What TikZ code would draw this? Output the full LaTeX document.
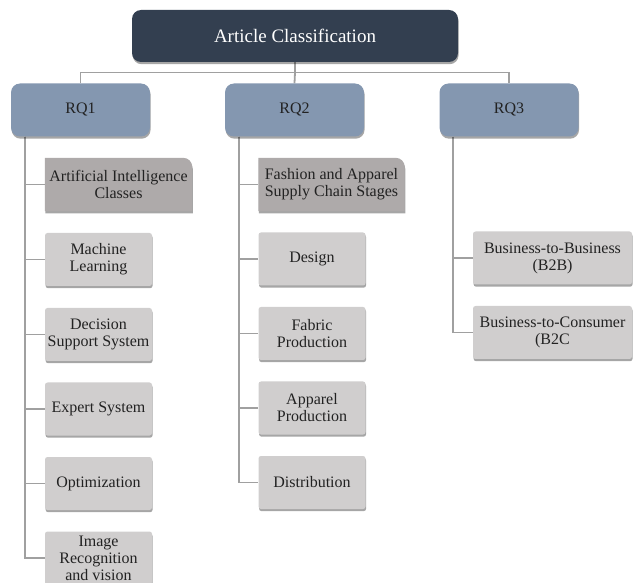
\documentclass[tikz,border=0pt]{standalone}
\usepackage{fontspec}
\setmainfont{Liberation Serif}
\usetikzlibrary{shadows,backgrounds}
\definecolor{titlec}{HTML}{333F50}
\definecolor{rqc}{HTML}{8497B0}
\definecolor{leafc}{HTML}{D0CECE}
\definecolor{headc}{HTML}{AEAAAA}
\definecolor{linec}{HTML}{A0A0A0}
\definecolor{txtc}{HTML}{222222}
\tikzset{
  shad/.style={drop shadow={shadow xshift=0.6pt, shadow yshift=-2.2pt, opacity=0.35, fill=black}},
  titlebox/.style={rectangle, rounded corners=9pt, fill=titlec, text=white, shad,
    minimum width=326pt, minimum height=52pt, inner sep=0pt,
    font=\fontsize{19}{22}\selectfont},
  rqbox/.style={rectangle, rounded corners=9pt, fill=rqc, text=txtc, shad,
    minimum width=139pt, minimum height=53pt, inner sep=0pt,
    font=\fontsize{16}{17}\selectfont},
  leaf/.style={rectangle, rounded corners=2.5pt, fill=leafc, text=txtc, shad,
    minimum width=107pt, minimum height=53pt, inner sep=0pt, align=center,
    font=\fontsize{16}{17}\selectfont},
  headtxt/.style={rectangle, minimum height=53pt, inner sep=0pt, align=center,
    text=txtc, font=\fontsize{16}{17}\selectfont},
  headfill/.style={fill=headc, shad},
  conn/.style={draw=linec, line width=1.8pt}
}
\begin{document}
\begin{tikzpicture}[x=1pt,y=-1pt]
\useasboundingbox (0,0) rectangle (633,583);
% title and research questions
\node[titlebox] (top) at (295,36) {Article Classification};
\node[rqbox] (rq1) at (80.5,110) {RQ1};
\node[rqbox] (rq2) at (294.5,110) {RQ2};
\node[rqbox] (rq3) at (509,110) {RQ3};
\coordinate (hub) at (295,72.5);
% RQ1 children
\node[headtxt, minimum width=147pt] (ai) at (118.5,184.5) {Artificial Intelligence\\Classes};
\node[leaf] (ml) at (98.5,259.5) {Machine\\Learning};
\node[leaf] (dss) at (98.5,334.5) {Decision\\Support System};
\node[leaf] (es) at (98.5,409) {Expert System};
\node[leaf] (opt) at (98.5,483.5) {Optimization};
\node[leaf] (img) at (98.5,558) {Image\\Recognition\\and vision};
% RQ2 children
\node[headtxt, minimum width=146pt] (fash) at (331.5,184.5) {Fashion and Apparel\\Supply Chain Stages};
\node[leaf] (des) at (312,259) {Design};
\node[leaf] (fab) at (312,333.5) {Fabric\\Production};
\node[leaf] (app) at (312,408) {Apparel\\Production};
\node[leaf] (dist) at (312,482.5) {Distribution};
% RQ3 children
\node[leaf, minimum width=159pt] (b2b) at (552.5,258) {Business-to-Business\\(B2B)};
\node[leaf, minimum width=159pt] (b2c) at (552.5,332.5) {Business-to-Consumer\\(B2C};
\begin{scope}[on background layer]
  \fill[headfill] (ai.south west) -- (ai.north west) [rounded corners=9pt] -- (ai.north east) [sharp corners] -- (ai.south east) -- cycle;
  \fill[headfill] (fash.south west) -- (fash.north west) [rounded corners=9pt] -- (fash.north east) [sharp corners] -- (fash.south east) -- cycle;
  % connectors
  \draw[conn] (top.south) -- (hub);
  \draw[conn] (rq1.north) |- (hub) -| (rq3.north);
  \draw[conn] (hub) -- (rq2.north);
  \draw[conn] ([xshift=-55.5pt]rq1.south) |- (img.west);
  \foreach \n in {ai,ml,dss,es,opt} \draw[conn] ([xshift=-55.5pt]rq1.south) |- (\n.west);
  \draw[conn] ([xshift=-55.5pt]rq2.south) |- (dist.west);
  \foreach \n in {fash,des,fab,app} \draw[conn] ([xshift=-55.5pt]rq2.south) |- (\n.west);
  \draw[conn] ([xshift=-56pt]rq3.south) |- (b2c.west);
  \draw[conn] ([xshift=-56pt]rq3.south) |- (b2b.west);
\end{scope}
\end{tikzpicture}
\end{document}
